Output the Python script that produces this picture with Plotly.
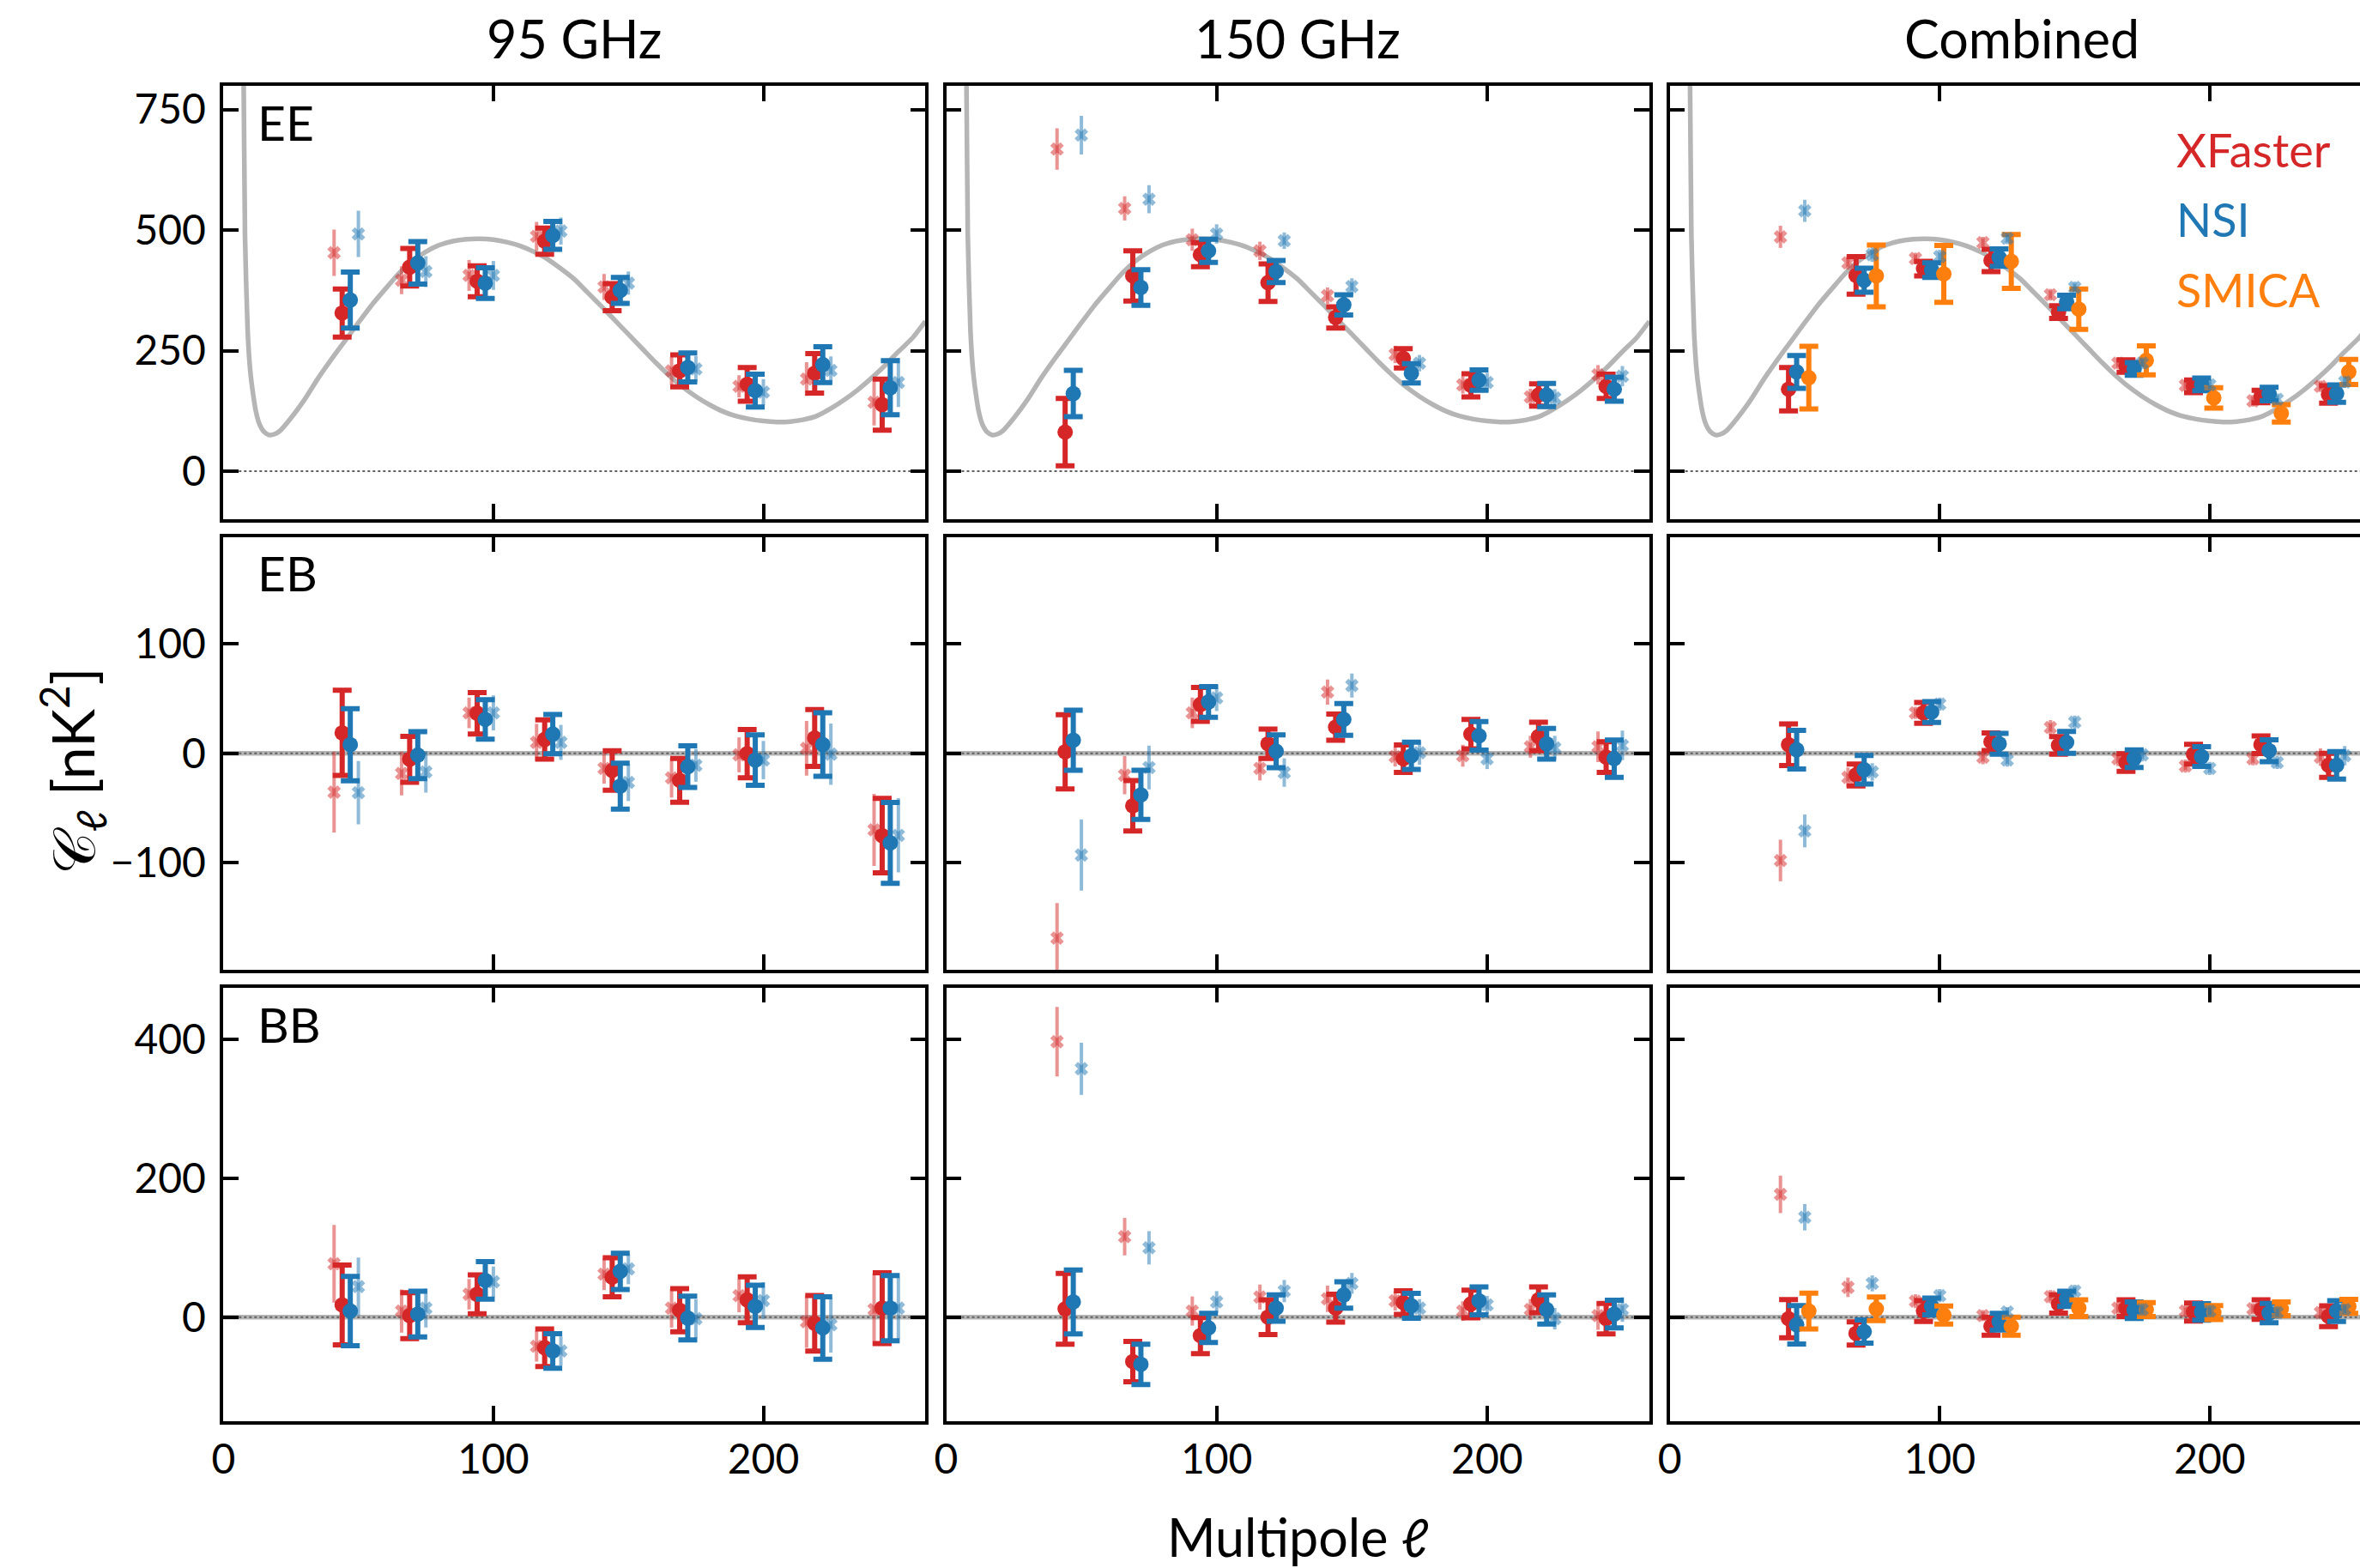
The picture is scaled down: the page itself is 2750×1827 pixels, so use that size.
import plotly.graph_objects as go

# ---------------- data ----------------
ell_bins = [45, 70, 95, 120, 145, 170, 195, 220, 245]

theory_ell = [6.5, 7.5, 8, 9, 10, 11, 12, 13, 14, 15, 17, 19, 21, 25, 30, 35, 40, 45, 50,
              55, 60, 65, 70, 75, 80, 85, 90, 95, 100, 105, 110, 115, 120, 125, 130,
              135, 140, 145, 150, 155, 160, 165, 170, 175, 180, 185, 190, 195, 200,
              205, 210, 215, 220, 225, 230, 235, 240, 245, 250, 255, 260]
theory_ee = [1100, 810, 490, 290, 205, 160, 125, 103, 90, 82, 75, 77, 84, 110, 148, 192, 232, 270, 308,
             345, 378, 410, 436, 455, 469, 477, 481, 482, 480, 475, 467, 455, 440, 420, 398,
             370, 342, 313, 284, 255, 226, 199, 175, 155, 138, 124, 114, 108, 104,
             102, 103, 107, 115, 130, 148, 169, 193, 219, 248, 275, 311]

# EE, 95 GHz
ee_95_xf_raw = [453, 396, 406, 487, 382, 208, 176, 191, 143]
ee_95_xf_raw_err = [48, 29, 32, 30, 27, 29, 23, 35, 48]
ee_95_xf = [328, 423, 394, 477, 361, 208, 180, 203, 138]
ee_95_xf_err = [50, 39, 32, 27, 28, 33, 35, 41, 53]
ee_95_nsi = [355, 432, 390, 489, 375, 215, 167, 221, 173]
ee_95_nsi_err = [58, 44, 32, 29, 27, 30, 34, 37, 56]
ee_95_nsi_raw = [492, 414, 406, 498, 390, 212, 164, 209, 184]
ee_95_nsi_raw_err = [48, 32, 30, 28, 24, 27, 27, 29, 51]

# EE, 150 GHz
ee_150_xf_raw = [668, 545, 480, 457, 364, 242, 179, 154, 200]
ee_150_xf_raw_err = [43, 25, 23, 19, 17, 18, 18, 17, 20]
ee_150_xf = [81, 405, 449, 391, 319, 234, 178, 158, 176]
ee_150_xf_err = [70, 52, 25, 39, 22, 20, 24, 23, 25]
ee_150_nsi = [161, 381, 457, 414, 345, 203, 189, 158, 170]
ee_150_nsi_err = [48, 37, 24, 23, 21, 20, 21, 24, 25]
ee_150_nsi_raw = [697, 564, 492, 478, 383, 224, 184, 152, 197]
ee_150_nsi_raw_err = [40, 29, 20, 17, 17, 17, 20, 18, 21]

# EE, combined
ee_cmb_xf_raw = [486, 432, 441, 474, 366, 224, 178, 146, 176]
ee_cmb_xf_raw_err = [23, 14, 12, 12, 12, 12, 12, 12, 12]
ee_cmb_xf = [170, 406, 420, 437, 330, 218, 176, 155, 159]
ee_cmb_xf_err = [45, 39, 15, 23, 13, 13, 13, 13, 18]
ee_cmb_nsi = [206, 396, 417, 443, 351, 212, 180, 160, 161]
ee_cmb_nsi_err = [34, 25, 15, 18, 14, 13, 13, 14, 18]
ee_cmb_nsi_raw = [540, 449, 445, 483, 381, 224, 179, 149, 185]
ee_cmb_nsi_raw_err = [23, 15, 14, 12, 12, 12, 12, 12, 12]
ee_cmb_smica = [194, 405, 409, 435, 336, 230, 152, 120, 206]
ee_cmb_smica_err = [65, 64, 59, 56, 42, 30, 21, 18, 26]

# EB, 95 GHz
eb_95_xf_raw = [-35.5, -18.4, 37, 10, -13.8, -22.5, -1.4, 4.6, -70]
eb_95_xf_raw_err = [37, 20, 14, 17, 14, 18, 16, 25, 33]
eb_95_xf = [18.7, -5.4, 36.6, 12.7, -15.7, -24.7, -0.3, 14, -75.3]
eb_95_xf_err = [39, 21, 19, 18, 18, 20, 22, 26, 34]
eb_95_nsi = [7.9, -1.6, 31, 17.6, -30, -12.2, -6.2, 8, -82]
eb_95_nsi_err = [33, 21.5, 18, 18, 21, 19, 23, 29, 37]
eb_95_nsi_raw = [-36, -17, 37, 10, -26.6, -11, -6.2, -0.8, -75]
eb_95_nsi_raw_err = [29, 19, 16, 16, 17, 15, 17.5, 28, 34]

# EB, 150 GHz
eb_150_xf_raw = [-169, -20, 37, -13.8, 56, -3, -2.2, 6, 6]
eb_150_xf_raw_err = [32, 17.5, 14, 11, 11.5, 9, 10, 10, 14]
eb_150_xf = [1.4, -48, 44.7, 8.7, 24, -4.9, 17.6, 15.4, -3.5]
eb_150_xf_err = [34, 23, 15.5, 13.5, 12, 12.5, 13.5, 13, 14]
eb_150_nsi = [12, -38, 47, 1.9, 31, -2.2, 16, 8.7, -4.9]
eb_150_nsi_err = [27.5, 22.5, 14, 15, 14.5, 12.5, 13, 14, 17]
eb_150_nsi_raw = [-93, -13, 50.7, -17.6, 62, 0.5, -4.9, 5, 7.3]
eb_150_nsi_raw_err = [32.5, 20, 12, 13, 11, 11, 9.5, 11, 13.5]

# EB, combined
eb_cmb_xf_raw = [-98, -22, 37, -3.5, 23.6, -4.9, -11.7, -4.9, -3.5]
eb_cmb_xf_raw_err = [19, 9, 5.5, 6.5, 6.8, 6.8, 6, 6, 8]
eb_cmb_xf = [7.9, -19.8, 37, 10.6, 7.3, -8.4, -0.8, 7.9, -11]
eb_cmb_xf_err = [19, 10, 9.5, 8, 8, 8, 9, 8, 11]
eb_cmb_nsi = [3.3, -15, 37.7, 8.7, 10, -4.9, -3, 2.4, -11]
eb_cmb_nsi_err = [17.6, 13, 9.5, 9.5, 10, 8, 9, 10, 12.6]
eb_cmb_nsi_raw = [-71, -17, 45, -6.2, 28.5, -1.4, -13.8, -8.4, -2.2]
eb_cmb_nsi_raw_err = [15, 8, 6, 6, 6, 6, 6, 6, 8.8]

# BB, 95 GHz
bb_95_xf_raw = [77, 8.8, 33, -42, 62, 13, 31, -6.6, 11]
bb_95_xf_raw_err = [56, 31, 22, 22, 23, 28, 24, 37.6, 52]
bb_95_xf = [17.7, 2.2, 33, -44, 57.5, 10, 25, -8.8, 13]
bb_95_xf_err = [57.5, 33, 28, 27, 28, 31, 33, 40, 51]
bb_95_nsi = [8.8, 4.4, 53, -48.7, 66, -1.3, 15.5, -15.5, 13]
bb_95_nsi_err = [50, 33, 27, 25, 26, 31.6, 30.5, 45, 47]
bb_95_nsi_raw = [44, 13, 51, -48.7, 69.5, -2.2, 24, -11, 13]
bb_95_nsi_raw_err = [42, 28, 22, 21, 22, 28, 26.5, 40, 44]

# BB, 150 GHz
bb_150_xf_raw = [397, 116, 8.8, 29, 26.5, 23.5, 8.8, 11, 2.2]
bb_150_xf_raw_err = [50, 27, 21, 18, 19, 14, 14, 15, 20.5]
bb_150_xf = [12, -64, -26.5, 0, 13, 21, 19, 25, -2.2]
bb_150_xf_err = [51, 29, 26, 25, 20, 17, 20, 18.6, 22]
bb_150_nsi = [22, -68, -15.5, 13, 32, 16.4, 23.5, 11, 4.4]
bb_150_nsi_err = [46, 29, 21, 19, 19, 18, 20, 21, 20]
bb_150_nsi_raw = [358, 100, 22, 37.6, 48.7, 13, 17.7, -2.2, 11]
bb_150_nsi_raw_err = [37.6, 24, 15.5, 16, 15, 13, 13, 15.5, 17.7]

# BB, combined
bb_cmb_xf_raw = [177, 43, 23, 2.2, 29.6, 13, 8.8, 12, 6.6]
bb_cmb_xf_raw_err = [27, 14, 10, 8, 9.5, 9, 9, 8, 9]
bb_cmb_xf = [-2.2, -23.5, 8.8, -13, 19, 13, 7.5, 11, 1.3]
bb_cmb_xf_err = [27.6, 16.6, 15, 13, 13, 12, 13, 14, 15]
bb_cmb_nsi = [-11, -20.8, 15.5, -6.6, 26.5, 10, 7.5, 5.8, 8.8]
bb_cmb_nsi_err = [27.6, 16.6, 12, 12, 11, 12, 12, 14, 15]
bb_cmb_nsi_raw = [144, 48.7, 31, 7.5, 37.6, 11, 8.8, 6.6, 11]
bb_cmb_nsi_raw_err = [19, 11.5, 9.5, 7, 9, 9, 9, 9, 8]
bb_cmb_smica = [8.8, 12, 3, -13, 13, 11, 6.6, 12, 15.5]
bb_cmb_smica_err = [25.7, 17, 13, 13, 12, 10, 10, 10, 10]

column_titles = ["95 GHz", "150 GHz", "Combined"]
spectra = ["EE", "EB", "BB"]
legend_names = ["XFaster", "NSI", "SMICA"]

ytick_vals = {"EE": [0, 250, 500, 750], "EB": [-100, 0, 100], "BB": [0, 200, 400]}
xtick_vals = [0, 100, 200]

# ---------------- assemble ----------------
G = globals()
bands = ["95", "150", "cmb"]

def panel_series(spec, band):
    out = {}
    for key in ["xf_raw", "nsi_raw", "xf", "nsi", "smica"]:
        name = f"{spec.lower()}_{band}_{key}"
        if name in G:
            out[key] = (G[name], G[name + "_err"])
    return out

RED, BLUE, ORANGE = "#d62728", "#1f77b4", "#ff7f0e"
style = {
    "xf":      dict(color=RED, dx=-1.0, raw=False),
    "nsi":     dict(color=BLUE, dx=2.0, raw=False),
    "smica":   dict(color=ORANGE, dx=6.5, raw=False),
    "xf_raw":  dict(color="rgba(214,39,40,0.5)", dx=-4.0, raw=True),
    "nsi_raw": dict(color="rgba(31,119,180,0.5)", dx=5.0, raw=True),
}
draw_order = ["xf", "nsi", "smica", "xf_raw", "nsi_raw"]

W, H = 2750, 1827
xdom = [[260.3 / W, 1078.3 / W], [1102.5 / W, 1922.0 / W], [1945.7 / W, 1.0]]
xrng = [[0, 260], [0, 260], [0, (W - 1945.7) / 3.146]]
ydom = [[1 - 605.2 / H, 1 - 100.1 / H], [1 - 1130.0 / H, 1 - 625.5 / H], [1 - 1656.0 / H, 1 - 1150.7 / H]]
yrng = {"EE": [-100, 799], "EB": [-198, 198], "BB": [-150, 475]}

FONT = "Lato, Roboto, 'DejaVu Sans', sans-serif"
fig = go.Figure()
layout = dict(width=W, height=H, margin=dict(l=0, r=0, t=0, b=0, autoexpand=False),
              paper_bgcolor="white", plot_bgcolor="white", showlegend=False,
              font=dict(family=FONT, color="black"))
shapes = []
annotations = []

for r, spec in enumerate(spectra):
    for c, band in enumerate(bands):
        i = r * 3 + c + 1
        sfx = "" if i == 1 else str(i)
        xa, ya = f"x{sfx}", f"y{sfx}"
        # theory
        if spec == "EE":
            fig.add_trace(go.Scatter(x=theory_ell, y=theory_ee, mode="lines",
                                     line=dict(color="#b5b5b5", width=5.5, shape="spline", smoothing=0.6),
                                     xaxis=xa, yaxis=ya, hoverinfo="skip"))
        else:
            shapes.append(dict(type="line", xref=f"{xa} domain", yref=ya, x0=0, x1=1, y0=0, y1=0,
                               line=dict(color="#b5b5b5", width=5.5), layer="below"))
        shapes.append(dict(type="line", xref=f"{xa} domain", yref=ya, x0=0, x1=1, y0=0, y1=0,
                           line=dict(color="#606060", width=2, dash="dot"), layer="below"))
        ser = panel_series(spec, band)
        for key in draw_order:
            if key not in ser:
                continue
            vals, errs = ser[key]
            st = style[key]
            xs = [e + st["dx"] for e in ell_bins]
            if st["raw"]:
                fig.add_trace(go.Scatter(
                    x=xs, y=vals, mode="markers",
                    marker=dict(symbol="x", size=14, color=st["color"], line=dict(width=0)),
                    error_y=dict(type="data", array=errs, visible=True, color=st["color"],
                                 thickness=4, width=0),
                    xaxis=xa, yaxis=ya, hoverinfo="skip"))
            else:
                fig.add_trace(go.Scatter(
                    x=xs, y=vals, mode="markers",
                    marker=dict(symbol="circle", size=18, color=st["color"], line=dict(width=0)),
                    error_y=dict(type="data", array=errs, visible=True, color=st["color"],
                                 thickness=6, width=11),
                    xaxis=xa, yaxis=ya, hoverinfo="skip"))

        axis_common = dict(showline=True, linecolor="black", linewidth=3.5,
                           ticks="inside", ticklen=18, tickwidth=3.5, tickcolor="black",
                           showgrid=False, zeroline=False, automargin=False,
                           tickfont=dict(family=FONT, size=48, color="black"))
        layout[f"xaxis{sfx}"] = dict(axis_common, domain=xdom[c], range=xrng[c], anchor=ya,
                                     tickvals=xtick_vals, mirror="ticks",
                                     showticklabels=(r == 2), ticklabelstandoff=0)
        layout[f"yaxis{sfx}"] = dict(axis_common, domain=ydom[r], range=yrng[spec], anchor=xa,
                                     tickvals=ytick_vals[spec], mirror=("ticks" if c < 2 else False),
                                     showticklabels=(c == 0), ticklabelstandoff=7)
        if c == 0:
            annotations.append(dict(text=spec, xref=f"{xa} domain", yref=f"{ya} domain",
                                    x=0.046, y=0.917, xanchor="left", yanchor="middle",
                                    showarrow=False, font=dict(family=FONT, size=57, color="black")))

# column titles
title_x = [669.3 / W, 1512.2 / W, 2355.5 / W]
for c, t in enumerate(column_titles):
    annotations.append(dict(text=t, xref="paper", yref="paper", x=title_x[c], y=1 - 44 / H,
                            xanchor="center", yanchor="middle", showarrow=False,
                            font=dict(family=FONT, size=61, color="black")))

# legend-like labels
leg_colors = [RED, BLUE, ORANGE]
leg_y = [174, 256, 338]
for name, col, yy in zip(legend_names, leg_colors, leg_y):
    annotations.append(dict(text=name, xref="paper", yref="paper", x=2534 / W, y=1 - yy / H,
                            xanchor="left", yanchor="middle", showarrow=False,
                            font=dict(family=FONT, size=54, color=col)))

# axis titles
annotations.append(dict(text="Multipole <i>ℓ</i>", xref="paper", yref="paper", x=1512 / W, y=1 - 1790 / H,
                        xanchor="center", yanchor="middle", showarrow=False,
                        font=dict(family=FONT, size=61, color="black")))
annotations.append(dict(text="𝒞<sub><i>ℓ</i></sub> [nK<sup>2</sup>]", xref="paper", yref="paper",
                        x=84 / W, y=1 - 898 / H, xanchor="center", yanchor="middle",
                        textangle=-90, showarrow=False,
                        font=dict(family=FONT, size=68, color="black")))

layout["shapes"] = shapes
layout["annotations"] = annotations
fig.update_layout(**layout)
fig.write_html("out.html", config={"displayModeBar": False},
               post_script="document.body.style.margin='0';document.body.style.overflow='hidden';")
